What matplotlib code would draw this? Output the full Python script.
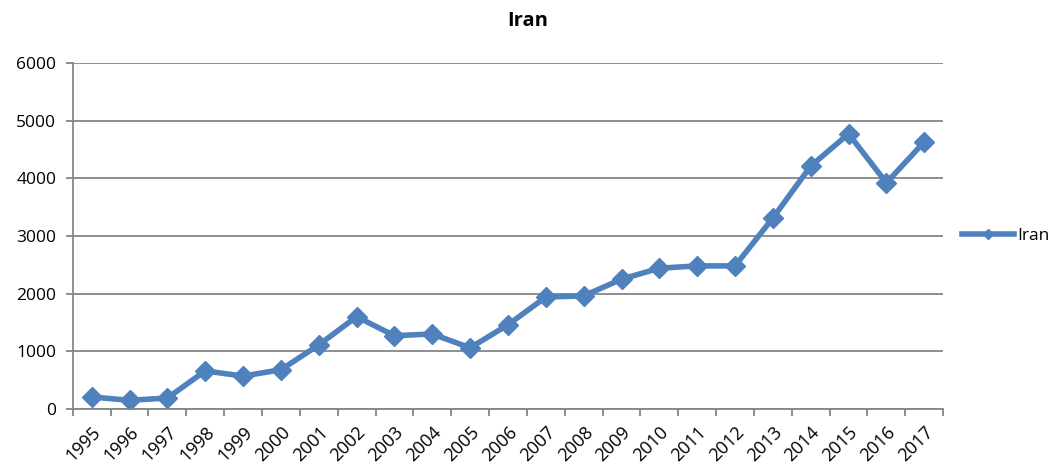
import numpy as np
import matplotlib.pyplot as plt
from matplotlib.ticker import FixedLocator

years = [str(y) for y in range(1995, 2018)]
iran = [208, 150, 190, 660, 570, 680, 1110, 1600, 1270, 1300, 1060, 1460,
        1940, 1960, 2250, 2440, 2480, 2480, 3310, 4210, 4770, 3920, 4630]

plt.rcParams['font.family'] = ['Open Sans', 'DejaVu Sans']

fig = plt.figure(figsize=(10.55, 4.69), dpi=100)
ax = fig.add_axes([0.069, 0.128, 0.825, 0.738])

blue = '#4F81BD'
grey = '#868686'
fs = 12.5

x = np.arange(len(years)) + 0.5
ax.plot(x, iran, color=blue, lw=4, marker='D', ms=10.5, label='Iran')

ax.set_xlim(0, len(years))
ax.set_ylim(0, 6000)
ax.set_yticks(range(0, 6001, 1000))
ax.yaxis.grid(True, color=grey, lw=1.3)
ax.set_axisbelow(True)

# ticks at category edges, labels at category centres
ax.xaxis.set_major_locator(FixedLocator(np.arange(len(years) + 1)))
ax.xaxis.set_minor_locator(FixedLocator(x))
ax.set_xticklabels([], minor=False)
ax.set_xticklabels(years, minor=True, rotation=45, ha='right',
                   rotation_mode='anchor', fontsize=13)
ax.tick_params(axis='x', which='major', length=5, color=grey, width=1.3)
ax.tick_params(axis='x', which='minor', length=0, pad=10)
ax.tick_params(axis='y', length=5, color=grey, width=1.3, labelsize=fs, pad=7)

for s in ['top', 'right']:
    ax.spines[s].set_visible(False)
for s in ['left', 'bottom']:
    ax.spines[s].set_color(grey)
    ax.spines[s].set_linewidth(1.3)

fig.text(0.5, 0.955, 'Iran', ha='center', va='center', fontsize=14.5, fontweight='bold')

leg = ax.legend(loc='center left', bbox_to_anchor=(1.01, 0.5), frameon=False,
                fontsize=fs, handlelength=3.0, handletextpad=0.15, markerscale=0.45,
                borderaxespad=0.2)

fig.savefig('out.png', dpi=100)
